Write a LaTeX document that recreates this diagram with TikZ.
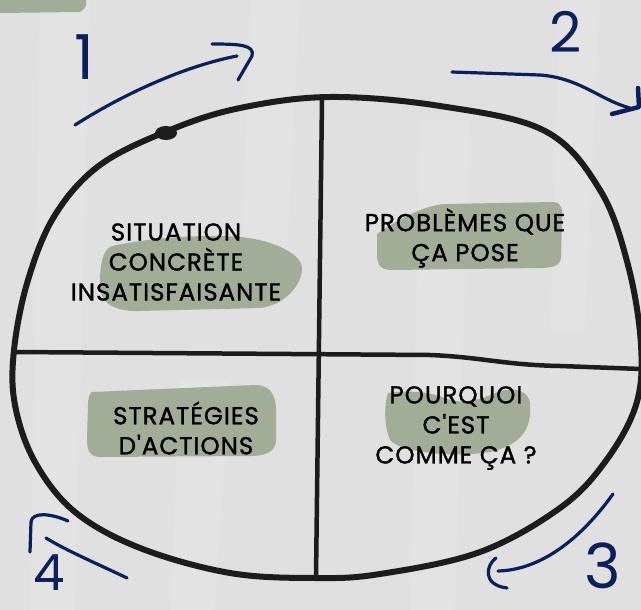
\documentclass[tikz,border=0pt]{standalone}
\usepackage{fontspec}
\setmainfont{Poppins}
\newfontfamily\handfont{Poppins}[LetterSpace=4, FakeBold=1.3]
\usetikzlibrary{calc}

\definecolor{paper}{RGB}{224,224,224}
\definecolor{sage}{RGB}{161,173,150}
\definecolor{ink}{RGB}{28,28,28}
\definecolor{navy}{RGB}{10,32,92}

\begin{document}
\begin{tikzpicture}[x=1pt, y=-1pt,
        blob/.style={fill=sage, draw=none},
        crease/.style={fill=white, opacity=0.1, draw=none},
        lbl/.style={align=center, inner sep=0pt, text=black,
            font=\handfont\fontsize{24.5}{30}\selectfont},
        num/.style={anchor=base, inner sep=0pt, text=navy,
            font=\fontsize{#1}{#1}\selectfont},
        pen/.style={draw=navy, line width=3.2pt, line cap=round, line join=round},
        rim/.style={draw=ink, line width=6pt, line cap=round, line join=round},
        bar/.style={draw=ink, line width=4.5pt, line cap=round}
    ]

    \def\W{641}
    \def\H{610}

    \fill[paper] (0,0) rectangle (\W,\H);
    \useasboundingbox (0,0) rectangle (\W,\H);

    % paper creases
    \foreach \a/\b/\c/\d in {40/0/90/610, 250/0/300/300, 420/120/470/610, 560/0/600/330, 180/380/230/610}{
        \fill[crease] (\a,\b) -- (\c,\b) -- (\c-15,\d) -- (\a-10,\d) -- cycle;
    }

    % green patches
    \fill[blob] (0,-5) -- (78,-5) .. controls (88,-5) and (90,6) .. (80,12) -- (0,13) -- cycle;
    \fill[blob] (112,246) .. controls (150,238) and (200,234) .. (240,237)
        .. controls (275,240) and (302,255) .. (302,268)
        .. controls (302,285) and (285,305) .. (260,308)
        -- (140,311) .. controls (110,312) and (100,300) .. (100,285)
        .. controls (100,265) and (102,250) .. (112,246) -- cycle;
    \fill[blob] (377,234) .. controls (395,222) and (420,206) .. (445,204)
        -- (552,202) .. controls (562,202) and (563,210) .. (562,220)
        -- (561,258) .. controls (560,266) and (552,268) .. (540,268)
        -- (392,270) .. controls (380,270) and (377,264) .. (377,255) -- cycle;
    \fill[blob] (92,392) -- (255,385) .. controls (270,385) and (276,395) .. (276,410)
        -- (276,440) .. controls (276,452) and (265,456) .. (250,456)
        -- (100,457) .. controls (90,457) and (87,450) .. (87,440)
        -- (88,405) .. controls (88,397) and (90,393) .. (92,392) -- cycle;
    \fill[blob] (388,393) .. controls (410,390) and (430,392) .. (445,398)
        .. controls (460,405) and (480,400) .. (495,393)
        .. controls (510,387) and (530,388) .. (530,405)
        .. controls (532,430) and (520,445) .. (490,452)
        .. controls (450,458) and (400,452) .. (390,440)
        .. controls (384,425) and (384,405) .. (388,393) -- cycle;

    % circle and cross
    \draw[rim] plot[smooth cycle, tension=0.6] coordinates {
        (170,130) (240,108) (330,97) (440,106) (545,131) (600,190)
        (628,265) (641,345) (636,405) (605,462) (560,508) (480,552)
        (380,574) (315,578) (230,573) (140,548) (75,512) (35,462)
        (15,405) (14,350) (28,280) (55,215) (100,165)};
    \fill[ink] (166,133) ellipse [x radius=11, y radius=7];
    \draw[bar] (322,100) -- (316,577);
    \draw[bar] (14,352) -- (430,355) .. controls (480,357) and (505,365) .. (560,366) -- (641,369);

    \node[lbl] (sit) at (176,262) {SITUATION\\CONCRÈTE\\INSATISFAISANTE};
    \node[lbl] (prob) at (465,238) {PROBLÈMES QUE\\ÇA POSE};
    \node[lbl] (strat) at (186,428) {STRATÉGIES\\D'ACTIONS};
    \node[lbl] (pourq) at (456,428) {POURQUOI\\C'EST\\COMME ÇA ?};

    % numbers
    \foreach \n/\x/\y/\s in {1/84/80/62, 2/566/53/56, 3/603/588/62, 4/49/590/50}{
        \node[num=\s] (n\n) at (\x,\y) {\n};
    }

    % arrows
    \draw[pen] (75,125) .. controls (130,90) and (190,65) .. (237,56);
    \draw[pen] (212,44) .. controls (240,44) and (255,45) .. (252,56) -- (238,80);
    \draw[pen] (452,72) -- (540,75) .. controls (580,78) and (600,100) .. (630,108);
    \draw[pen, line width=4.5pt] (638,88) -- (639,107) -- (612,114);
    \draw[pen] (613,494) .. controls (580,540) and (540,570) .. (498,571);
    \draw[pen] (496,558) .. controls (486,565) and (482,585) .. (507,588);
    \draw[pen] (127,578) .. controls (100,565) and (65,550) .. (46,538);
    \draw[pen] (30,552) -- (31,522) .. controls (32,512) and (50,513) .. (68,521);
\end{tikzpicture}
\end{document}
